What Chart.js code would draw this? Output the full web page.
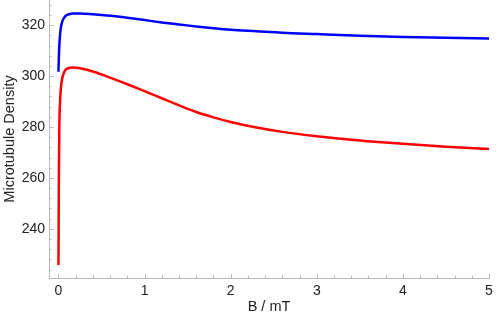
<!DOCTYPE html>
<html>
<head>
<meta charset="utf-8">
<script src="https://cdn.jsdelivr.net/npm/chart.js@4/dist/chart.umd.min.js"></script>
<style>
  html, body { margin: 0; padding: 0; background: #fff; }
  #wrap { width: 498px; height: 318px; }
</style>
</head>
<body>
<div id="wrap"><canvas id="chart" width="498" height="318"></canvas></div>
<script>
// field values (mT), denser near zero where the curves climb
const fieldB = [0, 0.005, 0.01, 0.02, 0.03, 0.05, 0.08, 0.12, 0.17, 0.25, 0.4, 0.6, 0.8, 1.0, 1.2, 1.4, 1.6, 1.8, 2.0, 2.3, 2.6, 3.0, 3.5, 4.0, 4.5, 5.0];
const blueDensity = [301.7, 308, 312, 317, 319.5, 322, 323.6, 324.3, 324.6, 324.6, 324.3, 323.7, 322.9, 322.0, 321.1, 320.3, 319.5, 318.8, 318.2, 317.6, 317.0, 316.5, 315.9, 315.4, 315.1, 314.8];
const redDensity = [225.8, 262, 280, 291, 296, 300, 302.4, 303.2, 303.4, 303.1, 301.8, 299.4, 296.8, 294.1, 291.3, 288.5, 285.9, 283.8, 282.0, 279.8, 278.1, 276.4, 274.7, 273.4, 272.3, 271.4];

const xTicks = [0, 1, 2, 3, 4, 5];
const yTicks = [240, 260, 280, 300, 320];
const xMinorStep = 0.2;
const yMinorStep = 4;

const axisColor = '#b8b8b8';
const labelColor = '#222';
const fontFamily = '"Liberation Sans", Arial, sans-serif';

function toPoints(xs, ys) {
    return xs.map((x, i) => ({ x: x, y: ys[i] }));
}

// small inward tick marks, Mathematica style
const tickMarks = {
    id: 'tickMarks',
    afterDraw(chart) {
        const { ctx, chartArea, scales } = chart;
        const xs = scales.x, ys = scales.y;
        ctx.save();
        ctx.strokeStyle = axisColor;
        ctx.lineWidth = 1;
        ctx.beginPath();
        for (let v = 0; v <= xs.max + 1e-9; v += xMinorStep) {
            const major = Math.abs(v - Math.round(v)) < 1e-6;
            const px = Math.round(xs.getPixelForValue(v)) + 0.5;
            ctx.moveTo(px, chartArea.bottom);
            ctx.lineTo(px, chartArea.bottom - (major ? 4 : 2.5));
        }
        const yStart = Math.ceil(ys.min / yMinorStep) * yMinorStep;
        for (let v = yStart; v <= ys.max; v += yMinorStep) {
            const major = v % 20 === 0;
            const py = Math.round(ys.getPixelForValue(v)) + 0.5;
            ctx.moveTo(chartArea.left, py);
            ctx.lineTo(chartArea.left + (major ? 4.5 : 2.5), py);
        }
        ctx.stroke();
        ctx.restore();
    }
};

new Chart(document.getElementById('chart'), {
    type: 'line',
    data: {
        datasets: [
            {
                data: toPoints(fieldB, blueDensity),
                borderColor: '#0000ff',
                borderWidth: 2.5,
                pointRadius: 0,
                cubicInterpolationMode: 'monotone'
            },
            {
                data: toPoints(fieldB, redDensity),
                borderColor: '#ff0000',
                borderWidth: 2.5,
                pointRadius: 0,
                cubicInterpolationMode: 'monotone'
            }
        ]
    },
    options: {
        responsive: false,
        animation: false,
        layout: { padding: { left: 0, right: 9, top: 0, bottom: 0 } },
        plugins: {
            legend: { display: false },
            tooltip: { enabled: false }
        },
        scales: {
            x: {
                type: 'linear',
                min: -0.11,
                max: 5,
                afterBuildTicks: s => { s.ticks = xTicks.map(v => ({ value: v })); },
                afterFit: s => { s.height = 40; s.paddingLeft = 0; s.paddingRight = 0; },
                grid: { display: false, drawTicks: false },
                border: { display: true, color: axisColor, width: 1 },
                ticks: { color: labelColor, padding: 5, font: { family: fontFamily, size: 14 } },
                title: {
                    display: true,
                    text: 'B / mT',
                    color: labelColor,
                    padding: { top: 0, bottom: 2 },
                    font: { family: fontFamily, size: 14.5 }
                }
            },
            y: {
                type: 'linear',
                min: 220.7,
                max: 329.9,
                afterBuildTicks: s => { s.ticks = yTicks.map(v => ({ value: v })); },
                afterFit: s => { s.width = 49; s.paddingTop = 0; s.paddingBottom = 0; },
                grid: { display: false, drawTicks: false },
                border: { display: true, color: axisColor, width: 1 },
                ticks: { color: labelColor, padding: 4, font: { family: fontFamily, size: 14 } },
                title: {
                    display: true,
                    text: 'Microtubule Density',
                    color: labelColor,
                    padding: { top: 1.5, bottom: 0 },
                    font: { family: fontFamily, size: 14.5 }
                }
            }
        }
    },
    plugins: [tickMarks]
});
</script>
</body>
</html>
